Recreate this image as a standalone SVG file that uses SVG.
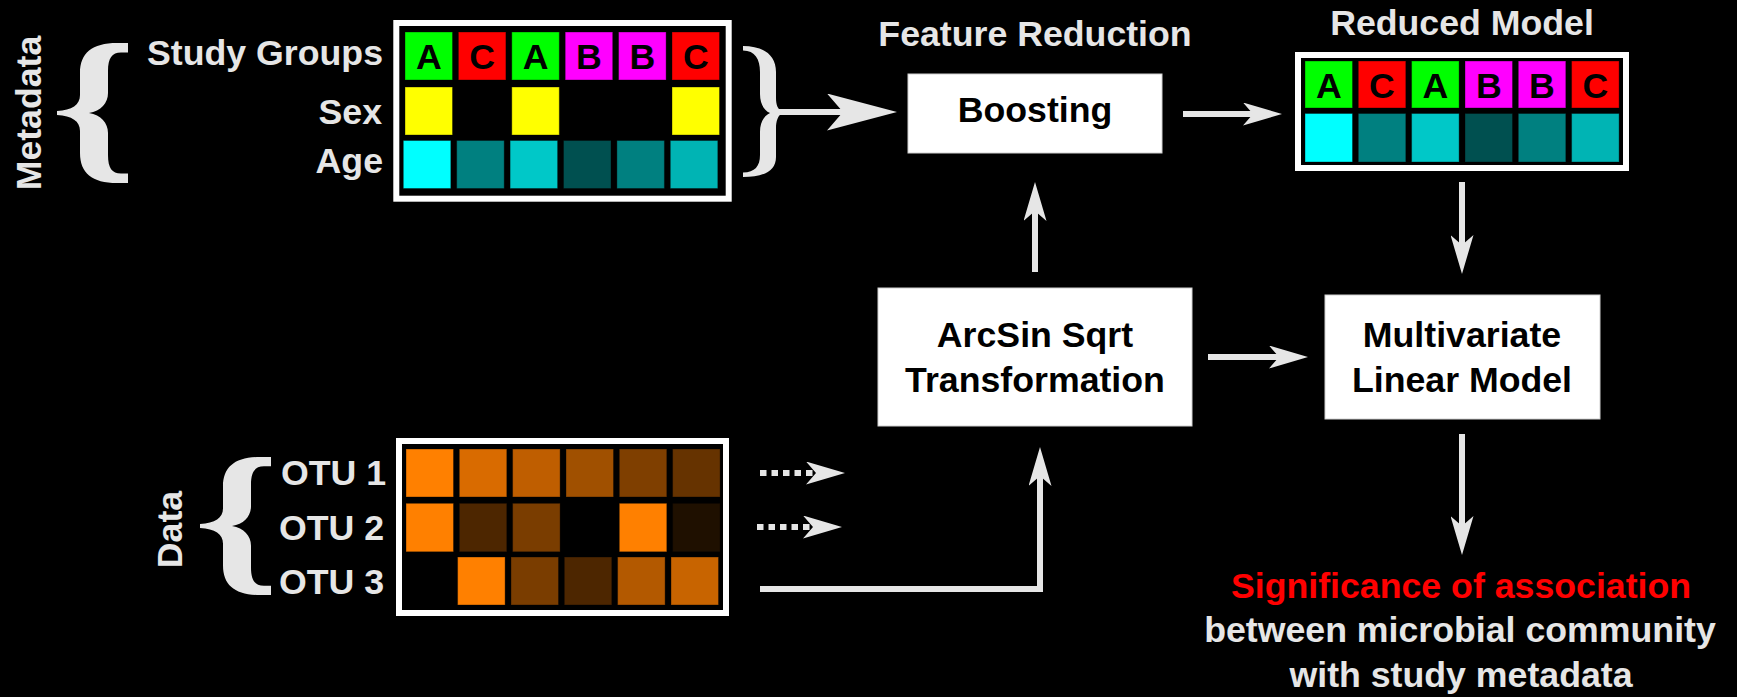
<svg xmlns="http://www.w3.org/2000/svg" xmlns:xlink="http://www.w3.org/1999/xlink" width="1737" height="697" viewBox="0 0 1737 697">
  <style>
    text { font-family: "Liberation Sans", Arial, Helvetica, sans-serif; font-weight: bold; font-size: 35.7px; }
    .lbl { fill: #e6e6e6; }
    .dark { fill: #000000; }
    .red { fill: #ff0000; }
    .mid { text-anchor: middle; }
    .end { text-anchor: end; }
    .frame { fill: #000000; stroke: #ffffff; stroke-width: 6; }
    .box { fill: #ffffff; stroke: #d0d0d0; stroke-width: 1; }
    .cell { stroke: #000000; stroke-opacity: 0.35; stroke-width: 1; }
    .brace { fill: #e6e6e6; }
    .link { fill: none; stroke: #e6e6e6; stroke-width: 6; }
    .dots { stroke-dasharray: 6.5 5; }
    .g { fill: #00ff00; } .r { fill: #ff0000; } .m { fill: #ff00ff; } .y { fill: #ffff00; }
    .a1 { fill: #00ffff; } .a2 { fill: #008080; } .a3 { fill: #00c8c8; } .a4 { fill: #005050; } .a5 { fill: #008080; } .a6 { fill: #00b4b4; }
    .o1 { fill: #ff8000; } .o2 { fill: #d96b00; } .o3 { fill: #bf5e00; } .o4 { fill: #a05000; } .o5 { fill: #7f3f00; } .o6 { fill: #663300; }
    .o7 { fill: #4d2600; } .o8 { fill: #7a3d00; } .o9 { fill: #1f1000; } .o10 { fill: #b35900; } .o11 { fill: #c86400; }
  </style>
  <defs>
    <!-- notched arrowhead, reference point at the notch -->
    <marker id="head" markerUnits="userSpaceOnUse" viewBox="0 0 39 23" markerWidth="39" markerHeight="23" refX="10" refY="11.5" orient="auto">
      <path d="M0,0 L39,11.5 L0,23 L10,11.5 Z" fill="#e6e6e6"/>
    </marker>
    <marker id="bighead" markerUnits="userSpaceOnUse" viewBox="0 0 70 37" markerWidth="70" markerHeight="37" refX="16" refY="18.5" orient="auto">
      <path d="M0,0 L70,18.5 L0,37 L16,18.5 Z" fill="#e6e6e6"/>
    </marker>
    <!-- opening curly brace, 71 x 140 -->
    <path id="lbrace" d="M71,0 L60,0 C35,0 23,10 23,30 L23,52 C23,62 15,67 0,68 L0,72 C15,73 23,78 23,88 L23,110 C23,130 35,140 60,140 L71,140 L71,130.5 L64,130.5 C55,130.5 51,125 51,112 L51,90 C51,80 44,72 32,70 C44,68 51,60 51,50 L51,28 C51,15 55,9.5 64,9.5 L71,9.5 Z"/>
  </defs>

  <rect x="0" y="0" width="1737" height="697" fill="#000000"/>

  <!-- metadata block -->
  <g id="metadata-label">
    <text class="lbl mid" transform="translate(41,113) rotate(-90)">Metadata</text>
    <use xlink:href="#lbrace" class="brace" transform="translate(57,43)"/>
    <text class="lbl end" x="383" y="65">Study Groups</text>
    <text class="lbl end" x="382" y="124">Sex</text>
    <text class="lbl end" x="383" y="173">Age</text>
  </g>

  <g id="metadata-table">
    <rect class="frame" x="396.3" y="23" width="332.4" height="175.7"/>
    <rect class="cell g" x="405" y="32" width="47.5" height="48"/>
    <rect class="cell r" x="458.4" y="32" width="47.5" height="48"/>
    <rect class="cell g" x="511.8" y="32" width="47.5" height="48"/>
    <rect class="cell m" x="565.2" y="32" width="47.5" height="48"/>
    <rect class="cell m" x="618.6" y="32" width="47.5" height="48"/>
    <rect class="cell r" x="672" y="32" width="47.5" height="48"/>
    <text class="dark mid" x="428.8" y="68.7">A</text>
    <text class="dark mid" x="482.2" y="68.7">C</text>
    <text class="dark mid" x="535.6" y="68.7">A</text>
    <text class="dark mid" x="589" y="68.7">B</text>
    <text class="dark mid" x="642.4" y="68.7">B</text>
    <text class="dark mid" x="695.8" y="68.7">C</text>
    <rect class="cell y" x="405" y="87" width="47.5" height="48"/>
    <rect class="cell y" x="511.8" y="87" width="47.5" height="48"/>
    <rect class="cell y" x="672" y="87" width="47.5" height="48"/>
    <rect class="cell a1" x="403.3" y="140.5" width="47.5" height="48"/>
    <rect class="cell a2" x="456.7" y="140.5" width="47.5" height="48"/>
    <rect class="cell a3" x="510.1" y="140.5" width="47.5" height="48"/>
    <rect class="cell a4" x="563.5" y="140.5" width="47.5" height="48"/>
    <rect class="cell a5" x="616.9" y="140.5" width="47.5" height="48"/>
    <rect class="cell a6" x="670.3" y="140.5" width="47.5" height="48"/>
  </g>

  <g id="metadata-brace-right">
    <path class="brace" d="M743,46 C762,46 776,54 776,72 L776,98 C776,105 778,109 781,111 L781,114 C778,116 776,121 776,128 L776,157 C776,172 762,177 743,177 L743,172.5 C755,172.5 760,166 760,155 L760,132 C760,122 764,116 770,113 C764,110 760,104 760,94 L760,72 C760,59 755,50.5 743,50.5 Z"/>
  </g>

  <!-- data block -->
  <g id="data-label">
    <text class="lbl mid" transform="translate(182,529.5) rotate(-90)">Data</text>
    <use xlink:href="#lbrace" class="brace" transform="translate(200,457) scale(1,0.986)"/>
    <text class="lbl end" x="386" y="485">OTU 1</text>
    <text class="lbl end" x="384" y="540">OTU 2</text>
    <text class="lbl end" x="384" y="594">OTU 3</text>
  </g>

  <g id="data-table">
    <rect class="frame" x="399" y="441" width="327" height="172"/>
    <rect class="cell o1" x="406" y="449" width="47.5" height="48"/>
    <rect class="cell o2" x="459.3" y="449" width="47.5" height="48"/>
    <rect class="cell o3" x="512.6" y="449" width="47.5" height="48"/>
    <rect class="cell o4" x="566" y="449" width="47.5" height="48"/>
    <rect class="cell o5" x="619.3" y="449" width="47.5" height="48"/>
    <rect class="cell o6" x="672.6" y="449" width="47.5" height="48"/>
    <rect class="cell o1" x="406" y="503.3" width="47.5" height="48.5"/>
    <rect class="cell o7" x="459.3" y="503.3" width="47.5" height="48.5"/>
    <rect class="cell o8" x="512.6" y="503.3" width="47.5" height="48.5"/>
    <rect class="cell o1" x="619.3" y="503.3" width="47.5" height="48.5"/>
    <rect class="cell o9" x="672.6" y="503.3" width="47.5" height="48.5"/>
    <rect class="cell o1" x="457.6" y="557" width="47.5" height="48"/>
    <rect class="cell o8" x="511" y="557" width="47.5" height="48"/>
    <rect class="cell o7" x="564.3" y="557" width="47.5" height="48"/>
    <rect class="cell o10" x="617.6" y="557" width="47.5" height="48"/>
    <rect class="cell o11" x="671" y="557" width="47.5" height="48"/>
  </g>

  <!-- processing steps -->
  <g id="boosting">
    <text class="lbl mid" x="1035" y="46">Feature Reduction</text>
    <rect class="box" x="908" y="74" width="254" height="79"/>
    <text class="dark mid" x="1035" y="122">Boosting</text>
  </g>

  <g id="arcsin">
    <rect class="box" x="878" y="288" width="314" height="138"/>
    <text class="dark mid" x="1035" y="347">ArcSin Sqrt</text>
    <text class="dark mid" x="1035" y="392">Transformation</text>
  </g>

  <g id="reduced-model">
    <text class="lbl mid" x="1462" y="35">Reduced Model</text>
    <rect class="frame" x="1298" y="55" width="328" height="113"/>
    <rect class="cell g" x="1305" y="61" width="47.5" height="47"/>
    <rect class="cell r" x="1358.3" y="61" width="47.5" height="47"/>
    <rect class="cell g" x="1411.6" y="61" width="47.5" height="47"/>
    <rect class="cell m" x="1465" y="61" width="47.5" height="47"/>
    <rect class="cell m" x="1518.3" y="61" width="47.5" height="47"/>
    <rect class="cell r" x="1571.6" y="61" width="47.5" height="47"/>
    <text class="dark mid" x="1328.8" y="97.5">A</text>
    <text class="dark mid" x="1382" y="97.5">C</text>
    <text class="dark mid" x="1435.4" y="97.5">A</text>
    <text class="dark mid" x="1488.8" y="97.5">B</text>
    <text class="dark mid" x="1542" y="97.5">B</text>
    <text class="dark mid" x="1595.4" y="97.5">C</text>
    <rect class="cell a1" x="1305" y="113.5" width="47.5" height="48.5"/>
    <rect class="cell a2" x="1358.3" y="113.5" width="47.5" height="48.5"/>
    <rect class="cell a3" x="1411.6" y="113.5" width="47.5" height="48.5"/>
    <rect class="cell a4" x="1465" y="113.5" width="47.5" height="48.5"/>
    <rect class="cell a5" x="1518.3" y="113.5" width="47.5" height="48.5"/>
    <rect class="cell a6" x="1571.6" y="113.5" width="47.5" height="48.5"/>
  </g>

  <g id="linear-model">
    <rect class="box" x="1325" y="295" width="275" height="124"/>
    <text class="dark mid" x="1462" y="347">Multivariate</text>
    <text class="dark mid" x="1462" y="392">Linear Model</text>
  </g>

  <g id="significance">
    <text class="red mid" x="1461" y="598">Significance of association</text>
    <text class="lbl mid" x="1460" y="642">between microbial community</text>
    <text class="lbl mid" x="1461" y="687">with study metadata</text>
  </g>

  <!-- connectors -->
  <g id="connectors">
    <line class="link" x1="777" y1="112" x2="843" y2="112" stroke-width="9.5" marker-end="url(#bighead)"/>
    <line class="link" x1="1183" y1="114" x2="1253" y2="114" marker-end="url(#head)"/>
    <line class="link" x1="1035" y1="272" x2="1035" y2="211" marker-end="url(#head)"/>
    <line class="link" x1="1208" y1="357" x2="1279" y2="357" marker-end="url(#head)"/>
    <line class="link" x1="1462" y1="182" x2="1462" y2="245" marker-end="url(#head)"/>
    <line class="link" x1="1462" y1="434" x2="1462" y2="526" marker-end="url(#head)"/>
    <line class="link dots" x1="760" y1="473" x2="816" y2="473" marker-end="url(#head)"/>
    <line class="link dots" x1="757" y1="527" x2="813" y2="527" marker-end="url(#head)"/>
    <polyline class="link" points="760,589 1040,589 1040,476" marker-end="url(#head)"/>
  </g>
</svg>
